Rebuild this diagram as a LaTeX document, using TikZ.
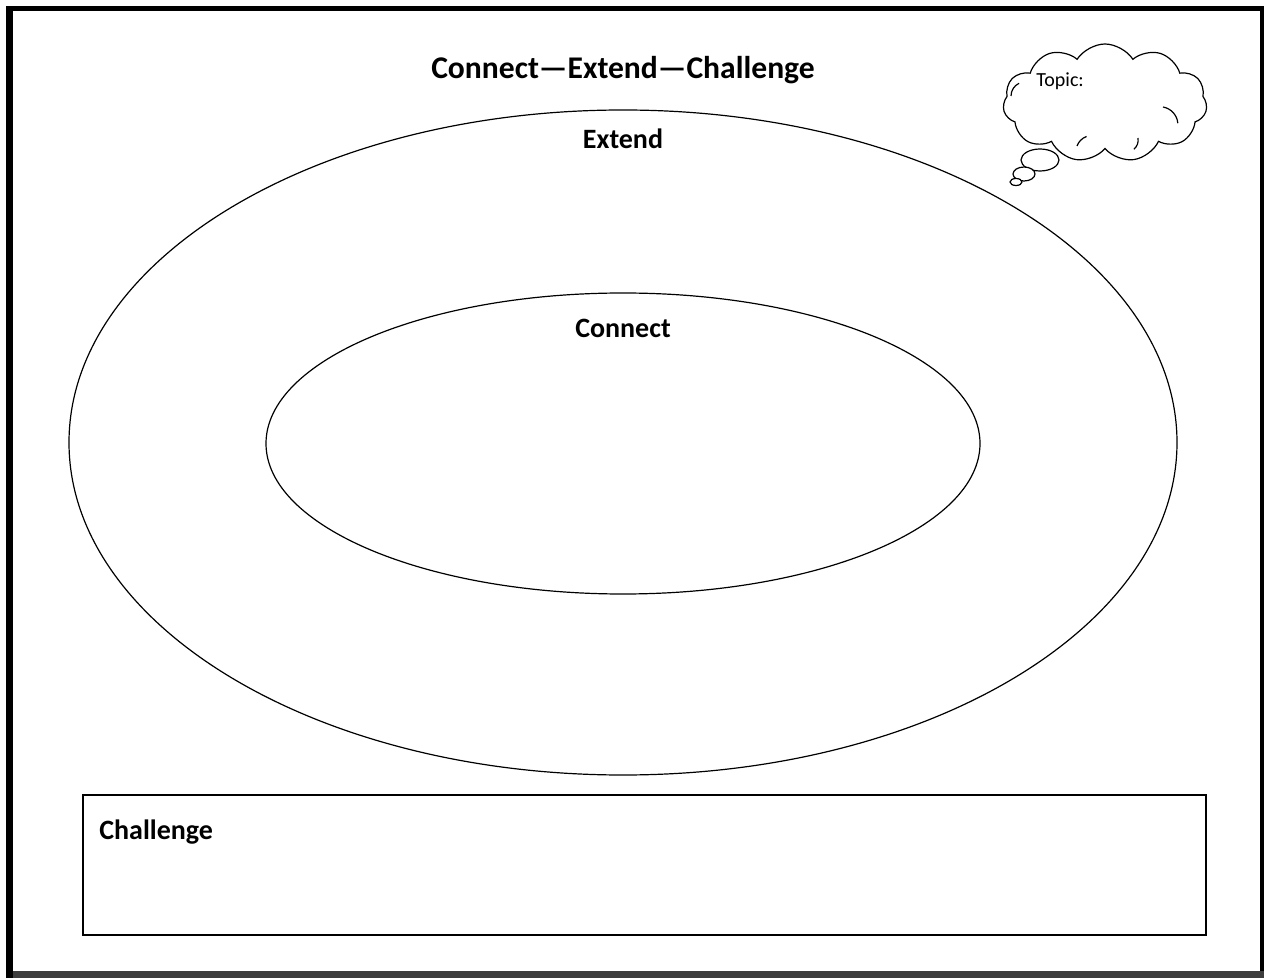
\documentclass[tikz,border=0pt]{standalone}
\usepackage{fontspec}
\setmainfont{Carlito}
\usetikzlibrary{shapes.symbols,shapes.geometric}
\begin{document}
\begin{tikzpicture}[x=0.5pt,y=-0.5pt,
  thin line/.style={draw=black,line width=0.6pt},
  lbl/.style={font=\bfseries\fontsize{14}{16}\selectfont,inner sep=0pt,anchor=base}]
\useasboundingbox (0,0) rectangle (1264,978);
% page frame
\fill[white] (0,0) rectangle (1264,978);
\fill[black] (6,6) rectangle (1264,978);
\fill[white] (13,11) rectangle (1260,971);
\fill[black!76] (13,971) rectangle (1264,978);
% title
\node[lbl,font=\bfseries\fontsize{15.8}{18}\selectfont] (title) at (623,79) {Connect—Extend—Challenge};
% ellipses
\node[thin line,ellipse,minimum width=554pt,minimum height=332.5pt,inner sep=0pt] (outer) at (623,442.5) {};
\node[thin line,ellipse,minimum width=357pt,minimum height=150.5pt,inner sep=0pt] (inner) at (623,443.5) {};
\node[lbl] (extend) at (623,149) {Extend};
\node[lbl] (connect) at (623,338) {Connect};
% challenge box
\node[thin line,rectangle,minimum width=561.5pt,minimum height=70pt,inner sep=0pt] (box) at (644.5,865) {};
\node[lbl,anchor=base west] (chal) at (99,839) {Challenge};
% cloud
\node[cloud,thin line,cloud puffs=11,cloud puff arc=115,aspect=1.75,minimum width=102pt,minimum height=59pt,inner sep=0pt] (cloud) at (1105,103) {};
\node[font=\fontsize{10}{12}\selectfont,anchor=base west,inner sep=0pt] (topic) at (1036,87) {Topic:};
\draw[thin line] (1011,96) arc[start angle=180,end angle=115,radius=7pt];
\draw[thin line] (1163,107) arc[start angle=80,end angle=5,radius=9pt];
\draw[thin line] (1138,138) arc[start angle=10,end angle=-50,radius=6pt];
\draw[thin line] (1077,146) arc[start angle=160,end angle=110,radius=8pt];
\node[thin line,ellipse,minimum width=19pt,minimum height=11pt,inner sep=0pt,fill=white] (b1) at (1040,160) {};
\node[thin line,ellipse,minimum width=11pt,minimum height=7pt,inner sep=0pt,fill=white] (b2) at (1024,174) {};
\node[thin line,ellipse,minimum width=6pt,minimum height=3.5pt,inner sep=0pt,fill=white] (b3) at (1016,182) {};
\end{tikzpicture}
\end{document}
